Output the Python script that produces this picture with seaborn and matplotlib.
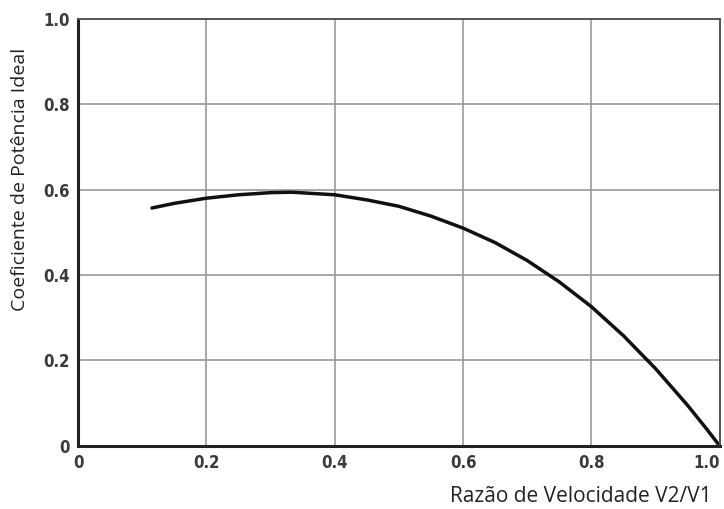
import matplotlib
matplotlib.use("Agg")
import matplotlib.pyplot as plt
import seaborn as sns
import pandas as pd

speed_ratio = [0.115, 0.15, 0.2, 0.25, 0.3, 0.333, 0.4, 0.45, 0.5, 0.55, 0.6,
               0.65, 0.7, 0.75, 0.8, 0.85, 0.9, 0.95, 0.98, 1.0]
power_coef = [0.557, 0.568, 0.580, 0.588, 0.593, 0.594, 0.588, 0.576, 0.561,
              0.538, 0.510, 0.476, 0.434, 0.384, 0.326, 0.258, 0.181, 0.095,
              0.039, 0.0]
tick_vals = [0, 0.2, 0.4, 0.6, 0.8, 1.0]
tick_labels = ["0", "0.2", "0.4", "0.6", "0.8", "1.0"]

df = pd.DataFrame({"r": speed_ratio, "cp": power_coef})

sns.set_theme(style="white")
plt.rcParams['font.family'] = ['Open Sans', 'DejaVu Sans']

fig = plt.figure(figsize=(7.24, 5.09), dpi=100)
ax = fig.add_axes([0.108, 0.124, 0.886, 0.839])

sns.lineplot(data=df, x="r", y="cp", ax=ax, color="#111111", linewidth=2.5,
             sort=False)

ax.set_xlim(0, 1.0)
ax.set_ylim(0, 1.0)
ax.set_xticks(tick_vals)
ax.set_yticks(tick_vals)
tick_font = dict(family=['DejaVu Sans'], stretch='condensed', size=12,
                 color="#3a3a3a", weight='semibold')
ax.set_xticklabels(tick_labels, **tick_font)
ax.set_yticklabels(tick_labels, **tick_font)
ax.get_xticklabels()[-1].set_horizontalalignment("right")
ax.tick_params(axis="both", length=0, pad=6)
ax.grid(True, color="#999999", linewidth=1.2)

for side in ["left", "bottom"]:
    ax.spines[side].set_color("#222222")
    ax.spines[side].set_linewidth(2.2)
for side in ["top", "right"]:
    ax.spines[side].set_color("#555555")
    ax.spines[side].set_linewidth(1.4)

ax.set_xlabel("")
ax.set_ylabel("")
fig.text(0.027, 0.648, "Coeficiente de Potência Ideal", rotation=90,
         ha="center", va="center", fontsize=14, color="#222222")
fig.text(0.802, 0.024, "Razão de Velocidade V2/V1", ha="center", va="center",
         fontsize=15, color="#222222")

fig.savefig("out.png", dpi=100)
